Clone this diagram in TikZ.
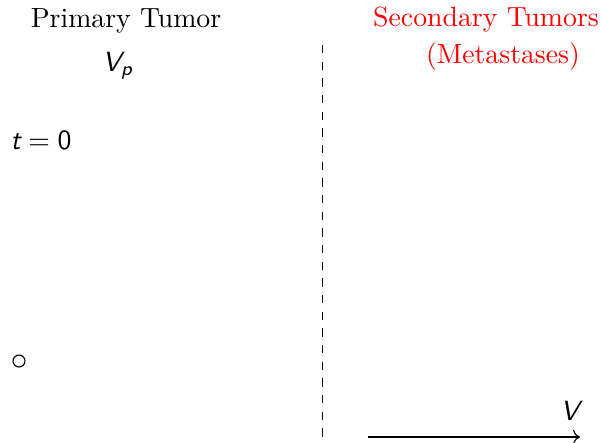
\documentclass[tikz,border=0pt]{standalone}
\usepackage{amsmath,amssymb}
\usepackage{tikz}
\usetikzlibrary{positioning,arrows.meta}

\begin{document}
\begin{tikzpicture}[x=0.36pt, y=-0.36pt, every node/.style={inner sep=0pt},
  sanslabel/.style={font=\sffamily}]
\useasboundingbox (0,0) rectangle (602,442);

% Column headings
\node (primary) at (126,21) {Primary Tumor};
\node[red] (secondary) at (486,20) {Secondary Tumors};
\node[red] (metast) at (503,57) {(Metastases)};

% Primary tumor volume and time
\node[sanslabel] (vp) at (118,66) {$\textit{V}_{\textit{p}}$};
\node[sanslabel] (time) at (41,140) {$\textit{t}=\text{0}$};
\node[circle, draw, minimum size=4.3pt] (cell) at (19,361) {};

% Separator between the two columns
\coordinate (septop) at (322,45);
\coordinate (sepbot) at (322,437);
\draw[dashed, line width=0.3pt] (septop) -- (sepbot);

% Volume axis of the metastases
\coordinate (axstart) at (368,437);
\coordinate (axend) at (580,437);
\draw[->] (axstart) -- (axend);
\node[sanslabel] (vol) at (570,411) {$\textit{V}$};
\end{tikzpicture}
\end{document}
